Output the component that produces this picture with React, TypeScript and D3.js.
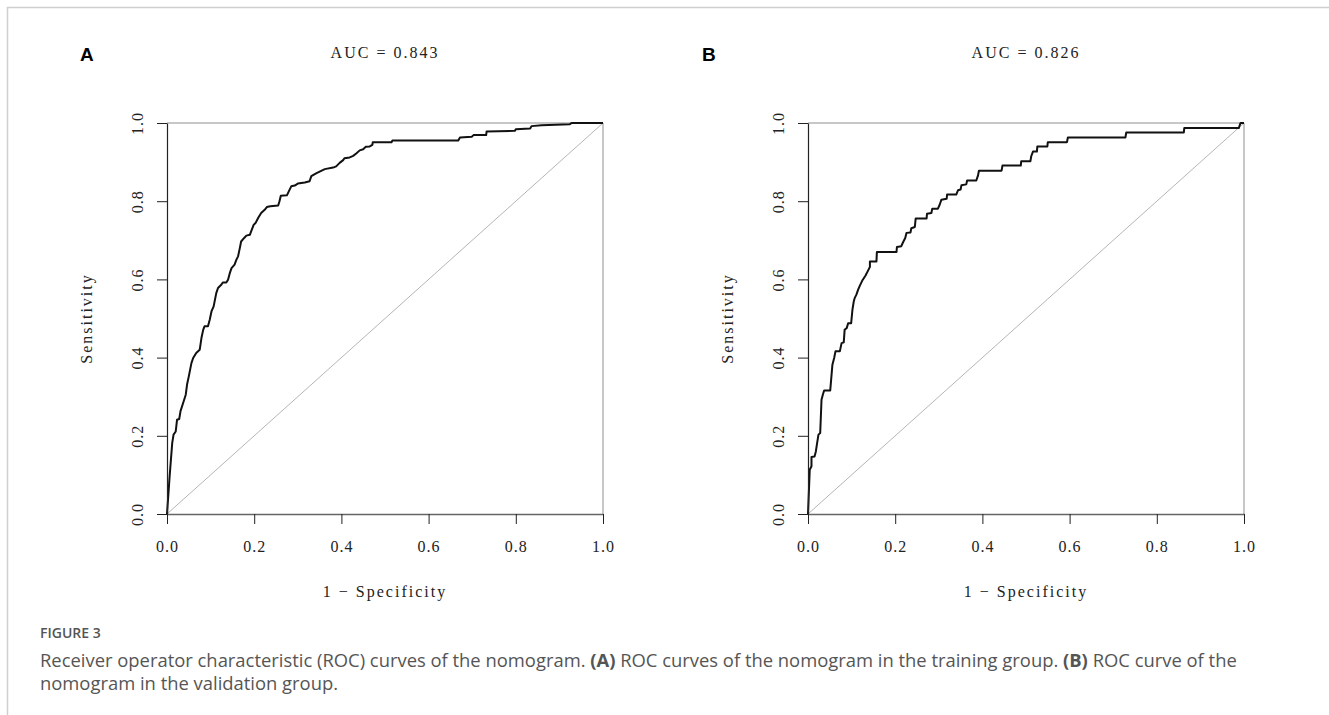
import React, { useEffect, useRef } from 'react';
import * as d3 from 'd3';

// ROC curve points (1 - specificity, sensitivity)
const fprA = [0, 0.006, 0.012, 0.015, 0.02, 0.023, 0.028, 0.031, 0.037, 0.043, 0.046, 0.05, 0.056, 0.06, 0.067, 0.075, 0.079, 0.083, 0.086, 0.094, 0.098, 0.102, 0.107, 0.113, 0.117, 0.125, 0.128, 0.136, 0.14, 0.144, 0.148, 0.155, 0.159, 0.163, 0.167, 0.17, 0.177, 0.182, 0.19, 0.193, 0.199, 0.203, 0.209, 0.216, 0.224, 0.229, 0.237, 0.255, 0.258, 0.261, 0.275, 0.281, 0.285, 0.293, 0.3, 0.316, 0.327, 0.331, 0.343, 0.356, 0.362, 0.381, 0.388, 0.396, 0.404, 0.407, 0.419, 0.427, 0.434, 0.442, 0.45, 0.456, 0.465, 0.471, 0.472, 0.515, 0.517, 0.668, 0.672, 0.699, 0.703, 0.732, 0.733, 0.798, 0.8, 0.833, 0.836, 0.859, 0.924, 0.928, 1];
const tprA = [0, 0.096, 0.182, 0.203, 0.211, 0.241, 0.243, 0.263, 0.284, 0.305, 0.331, 0.352, 0.386, 0.399, 0.412, 0.42, 0.45, 0.471, 0.48, 0.48, 0.497, 0.518, 0.531, 0.565, 0.578, 0.587, 0.592, 0.592, 0.599, 0.616, 0.629, 0.638, 0.65, 0.659, 0.68, 0.697, 0.706, 0.712, 0.714, 0.723, 0.74, 0.744, 0.757, 0.77, 0.778, 0.785, 0.787, 0.789, 0.8, 0.814, 0.815, 0.829, 0.838, 0.84, 0.845, 0.848, 0.851, 0.864, 0.872, 0.879, 0.882, 0.886, 0.889, 0.898, 0.905, 0.91, 0.912, 0.916, 0.922, 0.93, 0.933, 0.939, 0.94, 0.944, 0.951, 0.951, 0.955, 0.955, 0.963, 0.965, 0.969, 0.969, 0.978, 0.98, 0.984, 0.986, 0.992, 0.994, 0.997, 1, 1];

const fprB = [0, 0.004, 0.008, 0.008, 0.015, 0.018, 0.021, 0.024, 0.028, 0.031, 0.034, 0.037, 0.051, 0.056, 0.06, 0.063, 0.073, 0.077, 0.082, 0.084, 0.089, 0.092, 0.099, 0.102, 0.105, 0.107, 0.111, 0.115, 0.119, 0.125, 0.132, 0.138, 0.142, 0.142, 0.157, 0.158, 0.203, 0.204, 0.214, 0.218, 0.223, 0.226, 0.235, 0.237, 0.245, 0.247, 0.272, 0.273, 0.283, 0.285, 0.298, 0.302, 0.306, 0.318, 0.319, 0.34, 0.344, 0.35, 0.352, 0.363, 0.365, 0.386, 0.39, 0.392, 0.444, 0.446, 0.488, 0.489, 0.51, 0.512, 0.516, 0.525, 0.526, 0.549, 0.55, 0.594, 0.596, 0.728, 0.73, 0.862, 0.863, 0.988, 0.992, 1];
const tprB = [0, 0.113, 0.122, 0.146, 0.147, 0.16, 0.182, 0.203, 0.207, 0.292, 0.305, 0.316, 0.316, 0.382, 0.399, 0.416, 0.416, 0.437, 0.439, 0.471, 0.476, 0.488, 0.488, 0.523, 0.544, 0.552, 0.561, 0.574, 0.584, 0.598, 0.61, 0.623, 0.632, 0.646, 0.646, 0.67, 0.67, 0.683, 0.685, 0.695, 0.706, 0.719, 0.72, 0.731, 0.734, 0.756, 0.756, 0.768, 0.77, 0.781, 0.781, 0.791, 0.804, 0.806, 0.817, 0.817, 0.828, 0.83, 0.841, 0.843, 0.853, 0.853, 0.866, 0.878, 0.878, 0.891, 0.891, 0.902, 0.902, 0.915, 0.927, 0.927, 0.94, 0.94, 0.951, 0.951, 0.963, 0.963, 0.976, 0.976, 0.987, 0.987, 1, 1];

const axisTicks = [0, 0.2, 0.4, 0.6, 0.8, 1];
const panelLetters = ['A', 'B'];
const aucTitles = ['AUC = 0.843', 'AUC = 0.826'];
const xTitle = '1 \u2212 Specificity';
const yTitle = 'Sensitivity';

const figureLabel = 'FIGURE 3';
const captionLine1 = [
  { t: 'Receiver operator characteristic (ROC) curves of the nomogram. ', b: false },
  { t: '(A)', b: true },
  { t: ' ROC curves of the nomogram in the training group. ', b: false },
  { t: '(B)', b: true },
  { t: ' ROC curve of the', b: false },
];
const captionLine2 = 'nomogram in the validation group.';

const plotFont = '"Liberation Serif", serif';
const captionFont = '"Open Sans", sans-serif';

const App = () => {
  const ref = useRef<SVGSVGElement>(null);

  useEffect(() => {
    const svg = d3.select(ref.current);
    svg.selectAll('*').remove();

    // figure frame (top + left edge)
    svg.append('line').attr('x1', 7).attr('x2', 1329).attr('y1', 7.5).attr('y2', 7.5)
      .attr('stroke', '#cfcfcf').attr('stroke-width', 1.5);
    svg.append('line').attr('x1', 7.5).attr('x2', 7.5).attr('y1', 7).attr('y2', 715)
      .attr('stroke', '#cfcfcf').attr('stroke-width', 1.5);

    const layout = [
      { left: 167, right: 603, letterX: 80, fpr: fprA, tpr: tprA },
      { left: 808, right: 1244, letterX: 702, fpr: fprB, tpr: tprB },
    ];
    const top = 123;
    const bottom = 514;

    layout.forEach((p, i) => {
      const x = d3.scaleLinear().domain([0, 1]).range([p.left, p.right]);
      const y = d3.scaleLinear().domain([0, 1]).range([bottom, top]);
      const g = svg.append('g');

      // reference lines
      g.append('line').attr('x1', x(0)).attr('y1', y(0)).attr('x2', x(1)).attr('y2', y(1))
        .attr('stroke', '#b5b5b5').attr('stroke-width', 1);
      g.append('line').attr('x1', x(0)).attr('y1', y(1)).attr('x2', x(1)).attr('y2', y(1))
        .attr('stroke', '#b5b5b5').attr('stroke-width', 1.5);
      g.append('line').attr('x1', x(1)).attr('y1', y(0)).attr('x2', x(1)).attr('y2', y(1))
        .attr('stroke', '#b5b5b5').attr('stroke-width', 1.5);

      // ROC curve
      const pts: [number, number][] = p.fpr.map((f, k) => [f, p.tpr[k]]);
      const line = d3.line<[number, number]>().x((d) => x(d[0])).y((d) => y(d[1]));
      g.append('path').datum(pts).attr('d', line).attr('fill', 'none')
        .attr('stroke', '#111').attr('stroke-width', 2).attr('stroke-linejoin', 'round');

      // x axis
      const xa = g.append('g').attr('transform', `translate(0,${bottom})`)
        .call(d3.axisBottom(x).tickValues(axisTicks).tickSize(10).tickSizeOuter(0).tickFormat(d3.format('.1f')));
      xa.attr('font-family', plotFont).attr('font-size', 16);
      xa.select('.domain').attr('stroke', '#666').attr('stroke-width', 1.5);
      xa.selectAll('.tick line').attr('stroke', '#222');
      xa.selectAll('.tick text').attr('y', 38).attr('dy', 0).attr('fill', '#222').attr('letter-spacing', 1);

      // y axis
      const ya = g.append('g').attr('transform', `translate(${p.left},0)`)
        .call(d3.axisLeft(y).tickValues(axisTicks).tickSize(10).tickSizeOuter(0).tickFormat(d3.format('.1f')));
      ya.attr('font-family', plotFont).attr('font-size', 16);
      ya.select('.domain').attr('stroke', '#222').attr('stroke-width', 1.2);
      ya.selectAll('.tick line').attr('stroke', '#222');
      ya.selectAll('.tick text').attr('x', 0).attr('dy', 0).attr('text-anchor', 'middle')
        .attr('transform', 'translate(-24,0) rotate(-90)').attr('fill', '#222').attr('letter-spacing', 1);

      // titles
      const cx = (p.left + p.right) / 2;
      g.append('text').attr('x', cx).attr('y', 58).attr('text-anchor', 'middle')
        .attr('font-family', plotFont).attr('font-size', 16).attr('letter-spacing', 2)
        .attr('fill', '#222').text(aucTitles[i]);
      g.append('text').attr('x', cx).attr('y', 597).attr('text-anchor', 'middle')
        .attr('font-family', plotFont).attr('font-size', 16).attr('letter-spacing', 2)
        .attr('fill', '#222').text(xTitle);
      g.append('text').attr('transform', `translate(${p.left - 75},${(top + bottom) / 2}) rotate(-90)`)
        .attr('text-anchor', 'middle').attr('font-family', plotFont).attr('font-size', 16)
        .attr('letter-spacing', 2).attr('fill', '#222').text(yTitle);

      g.append('text').attr('x', p.letterX).attr('y', 61)
        .attr('font-family', '"Liberation Sans", Arial, sans-serif').attr('font-weight', 'bold')
        .attr('font-size', 19).attr('fill', '#000').text(panelLetters[i]);
    });

    // caption
    svg.append('text').attr('x', 40).attr('y', 638).attr('font-family', captionFont)
      .attr('font-size', 14).attr('font-weight', 600).attr('fill', '#555').text(figureLabel);
    const l1 = svg.append('text').attr('x', 40).attr('y', 667).attr('font-family', captionFont)
      .attr('font-size', 18.4).attr('fill', '#555');
    captionLine1.forEach((s) => {
      l1.append('tspan').attr('font-weight', s.b ? 700 : 400).text(s.t);
    });
    svg.append('text').attr('x', 40).attr('y', 690).attr('font-family', captionFont)
      .attr('font-size', 18.4).attr('fill', '#555').text(captionLine2);
  }, []);

  return (
    <svg
      ref={ref}
      width={1329}
      height={715}
      style={{ position: 'absolute', left: 0, top: 0, background: '#fff' }}
    />
  );
};

export default App;
